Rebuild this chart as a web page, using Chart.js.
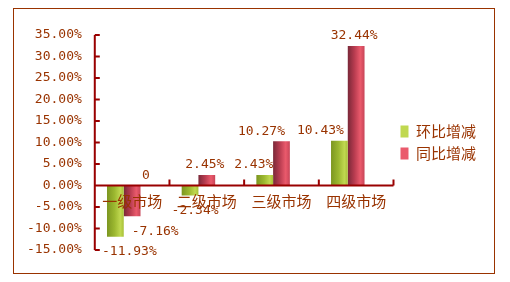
<!DOCTYPE html>
<html>
<head>
<meta charset="utf-8">
<script src="https://cdn.jsdelivr.net/npm/chart.js@4.4.0/dist/chart.umd.min.js"></script>
<style>
  html, body { margin: 0; padding: 0; background: #fff; }
  #wrap { width: 510px; height: 282px; }
</style>
</head>
<body>
<div id="wrap"><canvas id="marketChart" width="510" height="282"></canvas></div>
<script>
const categories = ["一级市场", "二级市场", "三级市场", "四级市场"];
const huanbi = [-11.93, -2.34, 2.43, 10.43];   // 环比增减
const tongbi = [-7.16, 2.45, 10.27, 32.44];    // 同比增减
const extra = [0, null, null, null];           // hidden third series, only shows "0"
const yTicks = { min: -15, max: 35, step: 5 };

const textColor = "#993300";
const axisColor = "#990000";
const catPct = 0.673;

// horizontal gradient across each bar, to fake the cylinder look
function barFill(stops) {
  return function (ctx) {
    const chart = ctx.chart;
    const xs = chart.scales.x;
    if (!xs || !chart.chartArea) return stops[1][1];
    const catW = xs.width / categories.length;
    const barW = catW * catPct / 3;
    const cx = xs.getPixelForValue(ctx.dataIndex) + (ctx.datasetIndex - 1) * barW;
    const g = chart.ctx.createLinearGradient(cx - barW / 2, 0, cx + barW / 2, 0);
    stops.forEach(s => g.addColorStop(s[0], s[1]));
    return g;
  };
}

const greenStops = [[0, "#7c9620"], [0.45, "#9cb830"], [0.8, "#c0d850"], [1, "#a8c038"]];
const redStops = [[0, "#7a2838"], [0.4, "#b83c50"], [0.75, "#ea5a6c"], [1, "#c84558"]];

// excel shifts some value labels sideways so they don't collide
const labelNudge = [[14, 5, -11, -19], [23, -2, -20, -2], [-3, 0, 0, 0]];

const decor = {
  id: "decor",
  beforeDraw(chart) {
    const c = chart.ctx;
    c.save();
    c.strokeStyle = "#993300";
    c.lineWidth = 1;
    c.strokeRect(13.5, 8.5, 481, 265);
    c.restore();
  },
  afterDatasetsDraw(chart) {
    const c = chart.ctx;
    const xs = chart.scales.x, ys = chart.scales.y;
    const zero = ys.getPixelForValue(0);
    c.save();
    c.strokeStyle = axisColor;
    c.lineWidth = 2;
    // y axis + inside ticks
    c.beginPath();
    c.moveTo(xs.left, ys.top);
    c.lineTo(xs.left, ys.bottom);
    ys.ticks.forEach(t => {
      const y = ys.getPixelForValue(t.value);
      c.moveTo(xs.left, y);
      c.lineTo(xs.left + 5, y);
    });
    // x axis at zero + upward ticks at category edges
    c.moveTo(xs.left, zero);
    c.lineTo(xs.right, zero);
    for (let i = 0; i <= categories.length; i++) {
      const x = xs.left + i * xs.width / categories.length;
      c.moveTo(x, zero);
      c.lineTo(x, zero - 6);
    }
    c.stroke();

    // value labels
    c.fillStyle = textColor;
    c.font = "13px 'DejaVu Sans Mono'";
    c.textAlign = "center";
    c.textBaseline = "middle";
    chart.data.datasets.forEach((ds, di) => {
      const meta = chart.getDatasetMeta(di);
      meta.data.forEach((bar, i) => {
        const v = ds.data[i];
        if (v === null || v === undefined) return;
        const txt = v === 0 ? "0" : v.toFixed(2) + "%";
        const y = v >= 0 ? bar.y - 10 : bar.y + 15;
        c.fillText(txt, bar.x + labelNudge[di][i], y);
      });
    });
    c.restore();
  }
};

new Chart(document.getElementById("marketChart"), {
  type: "bar",
  data: {
    labels: categories,
    datasets: [
      { label: "环比增减", data: huanbi, backgroundColor: barFill(greenStops), borderWidth: 0 },
      { label: "同比增减", data: tongbi, backgroundColor: barFill(redStops), borderWidth: 0 },
      { label: "", data: extra, backgroundColor: "rgba(0,0,0,0)", borderWidth: 0 }
    ]
  },
  options: {
    responsive: false,
    animation: false,
    layout: { padding: { left: 14, top: 35, right: 24, bottom: 32 } },
    datasets: { bar: { categoryPercentage: catPct, barPercentage: 1 } },
    scales: {
      x: {
        position: { y: 0 },
        grid: { display: false, drawTicks: false },
        border: { display: false },
        ticks: {
          z: 1,
          color: textColor,
          padding: 7,
          maxRotation: 0,
          font: { family: "'Noto Sans CJK SC'", size: 15 }
        }
      },
      y: {
        min: yTicks.min,
        max: yTicks.max,
        grid: { display: false, drawTicks: false },
        border: { display: false },
        ticks: {
          stepSize: yTicks.step,
          color: textColor,
          padding: 13,
          font: { family: "'DejaVu Sans Mono'", size: 13 },
          callback: v => v.toFixed(2) + "%"
        }
      }
    },
    plugins: {
      tooltip: { enabled: false },
      legend: {
        position: "right",
        labels: {
          color: textColor,
          boxWidth: 8,
          boxHeight: 12,
          padding: 7,
          font: { family: "'Noto Sans CJK SC'", size: 15 },
          filter: item => item.text !== "",
          generateLabels: chart => [greenStops, redStops].map((s, i) => ({
            text: chart.data.datasets[i].label,
            fillStyle: s[2][1],
            strokeStyle: s[2][1],
            lineWidth: 0,
            datasetIndex: i,
            fontColor: textColor
          }))
        }
      }
    }
  },
  plugins: [decor]
});
</script>
</body>
</html>
